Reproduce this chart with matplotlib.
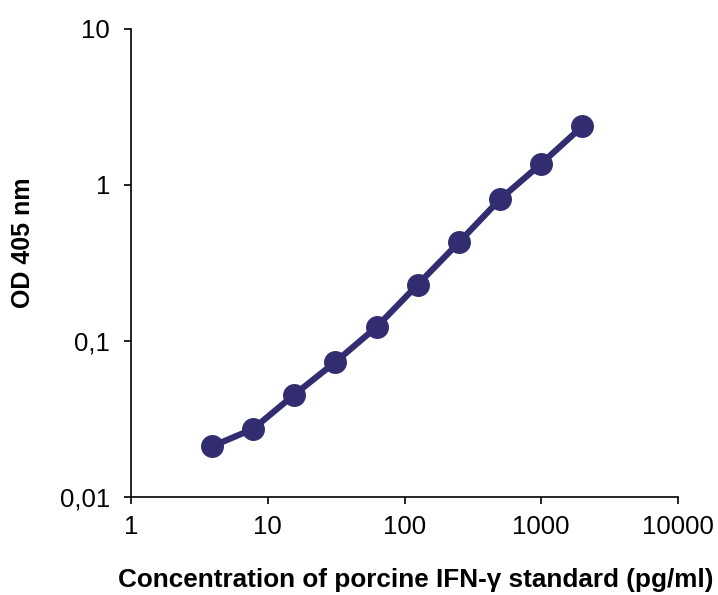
import matplotlib
matplotlib.use("Agg")
import matplotlib.pyplot as plt
from matplotlib.ticker import FixedLocator, FixedFormatter, NullLocator

plt.rcParams['font.family'] = ['Liberation Sans', 'DejaVu Sans']

# Data
concentration = [3.9, 7.8, 15.6, 31.25, 62.5, 125, 250, 500, 1000, 2000]
od405 = [0.0211, 0.0273, 0.0452, 0.0734, 0.123, 0.230, 0.429, 0.811, 1.37, 2.38]

x_ticks = [1, 10, 100, 1000, 10000]
x_tick_labels = ["1", "10", "100", "1000", "10000"]
y_ticks = [0.01, 0.1, 1, 10]
y_tick_labels = ["0,01", "0,1", "1", "10"]

W, H = 718, 595
fig = plt.figure(figsize=(W / 100, H / 100), dpi=100)
left, right, top, bottom = 131, 678, 29, 497
ax = fig.add_axes([left / W, (H - bottom) / H, (right - left) / W, (bottom - top) / H])

color = '#322d71'
ax.plot(concentration, od405, '-o', color=color, lw=4.5, ms=15.5, clip_on=False, zorder=3)

ax.set_xscale('log')
ax.set_yscale('log')
ax.set_xlim(1, 10000)
ax.set_ylim(0.01, 10)

ax.xaxis.set_major_locator(FixedLocator(x_ticks))
ax.xaxis.set_major_formatter(FixedFormatter(x_tick_labels))
ax.yaxis.set_major_locator(FixedLocator(y_ticks))
ax.yaxis.set_major_formatter(FixedFormatter(y_tick_labels))
ax.xaxis.set_minor_locator(NullLocator())
ax.yaxis.set_minor_locator(NullLocator())

for s in ['top', 'right']:
    ax.spines[s].set_visible(False)
for s in ['left', 'bottom']:
    ax.spines[s].set_linewidth(1.2)
    ax.spines[s].set_color('black')

ax.tick_params(axis='both', which='major', direction='out', length=5, width=1.2,
               labelsize=18.5, colors='black')
ax.tick_params(axis='x', pad=8)
ax.tick_params(axis='y', pad=10)

fig.text(416 / W, 1 - 580 / H, 'Concentration of porcine IFN-γ standard (pg/ml)',
         fontsize=18.8, fontweight='bold', ha='center', va='center')
fig.text(23 / W, 1 - 243 / H, 'OD 405 nm', fontsize=18, fontweight='bold',
         rotation=90, ha='center', va='center')

fig.savefig('out.png', dpi=100, facecolor='white')
